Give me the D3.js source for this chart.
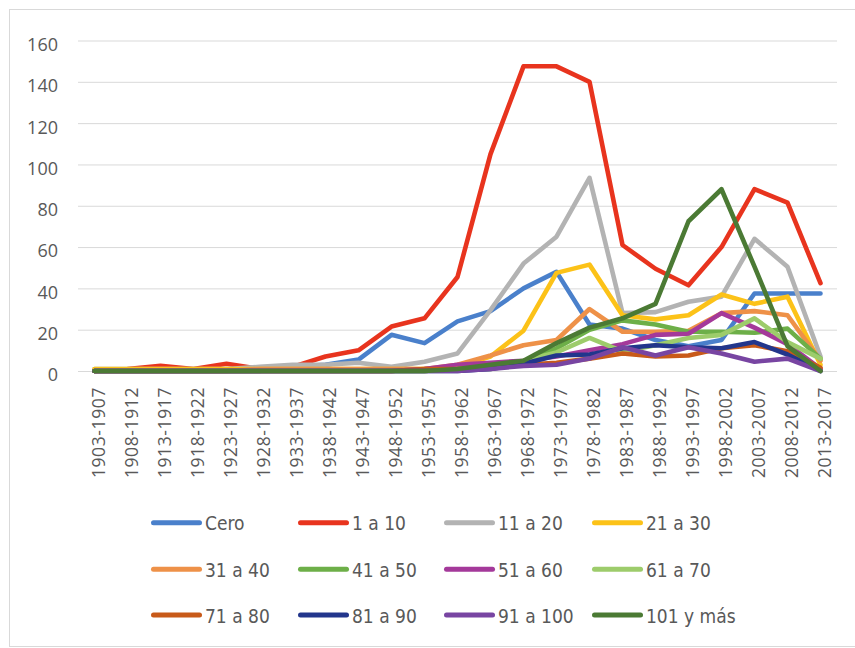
<!DOCTYPE html>
<html>
<head>
<meta charset="utf-8">
<script src="https://cdnjs.cloudflare.com/ajax/libs/d3/7.8.5/d3.min.js"></script>
<style>
	body{margin:0;background:#fff;}
	svg{display:block;}
</style>
</head>
<body>
<div id="chart"></div>
<script>

//PERIODS ON THE X AXIS
var periods = [
	"1903-1907", "1908-1912", "1913-1917", "1918-1922", "1923-1927", "1928-1932",
	"1933-1937", "1938-1942", "1943-1947", "1948-1952", "1953-1957", "1958-1962",
	"1963-1967", "1968-1972", "1973-1977", "1978-1982", "1983-1987", "1988-1992",
	"1993-1997", "1998-2002", "2003-2007", "2008-2012", "2013-2017"
];

var yTicks = [0, 20, 40, 60, 80, 100, 120, 140, 160];

var seriesNames = ["Cero", "1 a 10", "11 a 20", "21 a 30", "31 a 40", "41 a 50", "51 a 60", "61 a 70", "71 a 80", "81 a 90", "91 a 100", "101 y más"];
var seriesColors = ["#4a80cb", "#e8341e", "#b3b3b3", "#fcc218", "#ee9148", "#6daf48", "#a4399a", "#9dcc6b", "#c85a19", "#22368c", "#7845a2", "#4b7a34"];

//VALUES
var cero     = [0, 0, 0, 0, 0, 0, 2, 3, 5.5, 17.5, 13.5, 24, 29, 40, 48, 22.5, 20.5, 15, 12, 15, 37.5, 37.5, 37.5];
var a1_10    = [0, 1, 2.5, 1, 3.5, 1, 2, 7, 10, 21.5, 25.5, 45.5, 105, 147.5, 147.5, 140, 61, 49.5, 41.5, 60, 88, 81.5, 42.5];
var a11_20   = [1, 1, 1, 1, 1, 2, 3, 3, 4, 2, 4.5, 8.5, 29.5, 52, 65, 93.5, 28, 28.5, 33.5, 36, 64, 50.5, 7];
var a21_30   = [1, 1, 1, 1, 1, 1, 1, 1, 1, 1, 1, 2, 7, 19.5, 47.5, 51.5, 27, 25, 27, 37, 32.5, 36, 3];
var a31_40   = [0, 0, 0, 0, 0, 1, 1, 1, 1, 1, 1, 3, 7.5, 12.5, 15, 30, 19, 19, 19.5, 28, 29, 27, 5];
var a41_50   = [0, 0, 0, 0, 0, 0, 0, 0, 0, 0, 0, 1, 2, 4, 11, 20, 24.5, 22.5, 19, 19, 18.5, 20.5, 6];
var a51_60   = [0, 0, 0, 0, 0, 0, 0, 0, 0, 0, 1, 3, 4, 5, 7, 10, 13, 17.5, 18, 28, 21, 13, 1];
var a61_70   = [0, 0, 0, 0, 0, 0, 0, 0, 0, 0, 0, 1, 1, 5, 9, 16, 9.5, 12.5, 16, 17.5, 25.5, 14, 6];
var a71_80   = [0, 0, 0, 0, 0, 0, 0, 0, 0, 0, 1, 1, 2, 3, 4, 6, 8.5, 7, 7.5, 11, 12.5, 9.5, 1.5];
var a81_90   = [0, 0, 0, 0, 0, 0, 0, 0, 0, 0, 0, 0, 1, 3.5, 7.5, 8, 11, 12.5, 11.5, 11, 14, 8, 0];
var a91_100  = [0, 0, 0, 0, 0, 0, 0, 0, 0, 0, 0, 0, 1, 2.5, 3, 6, 11.5, 7.5, 11.5, 8.5, 4.5, 6, 0];
var a101_mas = [0, 0, 0, 0, 0, 0, 0, 0, 0, 0, 0, 1, 3, 5, 13.5, 21, 25.5, 32.5, 72.5, 88, 50.5, 12, 0];

var seriesValues = [cero, a1_10, a11_20, a21_30, a31_40, a41_50, a51_60, a61_70, a71_80, a81_90, a91_100, a101_mas];


function lineChart(params){
	var WIDTH = 855;
	var HEIGHT = 648;
	var LEFT = 78, RIGHT = 837, TOP = 40.5, BOTTOM = 371;
	var TEXT_COLOR = "#595959";
	var GRID_COLOR = "#d9d9d9";

	var svg = d3.select("#" + params.target)
		.append("svg")
		.attr("width", WIDTH)
		.attr("height", HEIGHT);

	//CHART FRAME
	svg.append("rect")
		.attr("x", 9.5).attr("y", 9.5)
		.attr("width", 850).attr("height", 637)
		.attr("fill", "#fff")
		.attr("stroke", GRID_COLOR);

	var x = d3.scaleBand().domain(params.periods).range([LEFT, RIGHT]).padding(0);
	var y = d3.scaleLinear().domain([0, 160]).range([BOTTOM, TOP]);
	function cx(p){ return x(p) + x.bandwidth() / 2; }

	//Y AXIS WITH GRID LINES
	var yAxis = svg.append("g")
		.attr("transform", "translate(" + LEFT + ",0)")
		.call(d3.axisLeft(y).tickValues(params.yTicks).tickSize(-(RIGHT - LEFT)).tickPadding(20));
	yAxis.select(".domain").remove();
	yAxis.selectAll("line").attr("stroke", GRID_COLOR);
	yAxis.selectAll("text")
		.attr("dy", "0.55em")
		.attr("fill", TEXT_COLOR)
		.style("font-family", "'Open Sans', 'Liberation Sans', sans-serif")
		.style("font-size", "18px");

	//X AXIS, LABELS ROTATED
	var xAxis = svg.append("g")
		.attr("transform", "translate(0," + BOTTOM + ")")
		.call(d3.axisBottom(x).tickSize(0));
	xAxis.select(".domain").remove();
	xAxis.selectAll("text")
		.attr("transform", "rotate(-90)")
		.attr("text-anchor", "end")
		.attr("x", -16)
		.attr("y", 10.5)
		.attr("dy", null)
		.attr("fill", TEXT_COLOR)
		.style("font-family", "'Open Sans', 'Liberation Sans', sans-serif")
		.style("font-size", "17.5px")
		.style("letter-spacing", "0.6px");

	//SERIES LINES
	var line = d3.line()
		.x(function(d, i){ return cx(params.periods[i]); })
		.y(function(d){ return y(d); });

	svg.append("g")
		.selectAll("path")
		.data(params.series)
		.enter()
		.append("path")
		.attr("d", function(s){ return line(s.values); })
		.attr("fill", "none")
		.attr("stroke", function(s){ return s.color; })
		.attr("stroke-width", 4.6)
		.attr("stroke-linejoin", "round")
		.attr("stroke-linecap", "round");

	//LEGEND, 4 COLUMNS
	var COLS = [151, 298, 444, 592];
	var ROWS = [522.7, 569.3, 615];
	var legend = svg.append("g")
		.selectAll("g")
		.data(params.series)
		.enter()
		.append("g")
		.attr("transform", function(s, i){
			return "translate(" + COLS[i % 4] + "," + ROWS[Math.floor(i / 4)] + ")";
		});
	legend.append("line")
		.attr("x1", 2.5).attr("x2", 48.5)
		.attr("stroke", function(s){ return s.color; })
		.attr("stroke-width", 5)
		.attr("stroke-linecap", "round");
	legend.append("text")
		.attr("x", 54)
		.attr("y", 7.5)
		.attr("fill", TEXT_COLOR)
		.style("font-family", "'DejaVu Sans Condensed', 'DejaVu Sans', sans-serif")
		.style("font-stretch", "condensed")
		.style("font-size", "19px")
		.text(function(s){ return s.name; });

	return svg;
}

lineChart({
	target: "chart",
	periods: periods,
	yTicks: yTicks,
	series: seriesNames.map(function(name, i){
		return {name: name, color: seriesColors[i], values: seriesValues[i]};
	})
});

</script>
</body>
</html>
